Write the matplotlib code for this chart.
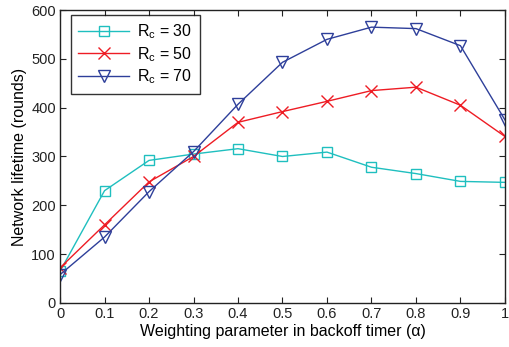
import matplotlib
matplotlib.use("Agg")
import matplotlib.pyplot as plt
import numpy as np

alpha = [0, 0.1, 0.2, 0.3, 0.4, 0.5, 0.6, 0.7, 0.8, 0.9, 1.0]
rc30 = [65, 230, 292, 305, 316, 300, 309, 278, 265, 249, 247]
rc50 = [72, 160, 248, 300, 370, 392, 413, 435, 442, 405, 341]
rc70 = [58, 135, 228, 310, 407, 493, 540, 565, 562, 527, 375]
xticks = [0, 0.1, 0.2, 0.3, 0.4, 0.5, 0.6, 0.7, 0.8, 0.9, 1]
xticklabels = ["0", "0.1", "0.2", "0.3", "0.4", "0.5", "0.6", "0.7", "0.8", "0.9", "1"]
yticks = [0, 100, 200, 300, 400, 500, 600]

plt.rcParams['font.family'] = ['Liberation Sans', 'DejaVu Sans']
plt.rcParams['mathtext.fontset'] = 'custom'
plt.rcParams['mathtext.rm'] = 'Liberation Sans'

fig = plt.figure(figsize=(5.09, 3.47), dpi=100)
ax = fig.add_axes([0.118, 0.127, 0.874, 0.844])

ax.plot(alpha, rc30, color='#1fbfbf', marker='s', markersize=7, markerfacecolor='none',
        markeredgewidth=1.0, linewidth=1.0, label=r'R$_\mathrm{c}$ = 30')
ax.plot(alpha, rc50, color='#ee1c24', marker='x', markersize=8, markeredgewidth=1.0,
        linewidth=1.0, label=r'R$_\mathrm{c}$ = 50')
ax.plot(alpha, rc70, color='#2e3f9a', marker='v', markersize=9, markerfacecolor='none',
        markeredgewidth=1.0, linewidth=1.0, label=r'R$_\mathrm{c}$ = 70')

ax.set_xlim(0, 1)
ax.set_ylim(0, 600)
ax.set_xticks(xticks)
ax.set_xticklabels(xticklabels)
ax.set_yticks(yticks)
ax.tick_params(direction='in', top=True, right=True, labelsize=10.5, length=4,
               colors='#222222', pad=3)
for s in ax.spines.values():
    s.set_linewidth(1.0)
    s.set_color('#222222')

ax.set_xlabel('Weighting parameter in backoff timer (α)', fontsize=11.5, labelpad=2)
ax.set_ylabel('Network lifetime (rounds)', fontsize=11.5, labelpad=3)

leg = ax.legend(loc='upper left', fontsize=11.5, frameon=True, fancybox=False,
                edgecolor='black', borderpad=0.45, handlelength=3.2, labelspacing=0.25,
                handletextpad=0.5, borderaxespad=0.0,
                bbox_to_anchor=(0.025, 0.983))
leg.get_frame().set_linewidth(1.0)

fig.savefig('out.png', dpi=100)
